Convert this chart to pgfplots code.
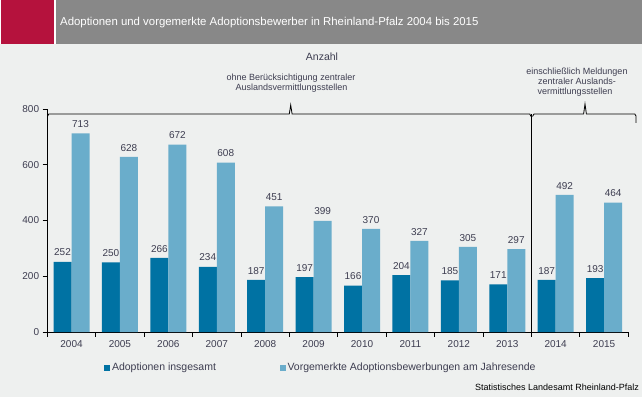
\documentclass[border=0pt]{standalone}
\usepackage{pgfplots}
\pgfplotsset{compat=1.18}
\usepackage{fontspec}
\setmainfont{Liberation Sans}
\definecolor{bg}{HTML}{EEF0EF}
\definecolor{dunkel}{HTML}{0072A3}
\definecolor{hell}{HTML}{6AADCB}
\definecolor{rot}{HTML}{B5123D}
\definecolor{grau}{HTML}{888888}
\definecolor{txt}{HTML}{3D3D50}
\pgfplotsset{/pgfplots/ybar legend/.style={/pgfplots/legend image code/.code={\fill[##1,draw=none] (0pt,-2.8pt) rectangle (5.6pt,2.8pt);}}}
\begin{document}
\begin{tikzpicture}[x=1pt,y=1pt]
\fill[bg] (0,0) rectangle (642,397);
\useasboundingbox (0,0) rectangle (642,397);
\fill[white] (0,352.5) rectangle (642,397);
\fill[rot] (0.7,353.2) rectangle (53.5,397);
\fill[grau] (56,353) rectangle (642,397);
\node[anchor=base west, text=white, inner sep=0pt, font=\fontsize{11.4}{13}\selectfont] at (60,371) {Adoptionen und vorgemerkte Adoptionsbewerber in Rheinland-Pfalz 2004 bis 2015};
\begin{axis}[
  at={(47.3pt,65pt)}, anchor=south west,
  scale only axis, width=581pt, height=223pt,
  xmin=-0.5, xmax=11.5, ymin=0, ymax=800,
  axis x line*=bottom, axis y line*=left,
  axis line style={line width=0.9pt,black},
  ybar=0pt, bar width=18pt,
  xtick={0,...,11},
  xticklabels={2004,2005,2006,2007,2008,2009,2010,2011,2012,2013,2014,2015},
  minor xtick={-0.5,0.5,...,11.5},
  ytick={0,200,400,600,800},
  tick align=outside,
  major tick length=4.7pt, minor tick length=4.7pt,
  tick style={line width=0.9pt,black},
  major x tick style={draw=none},
  /pgf/number format/assume math mode=true,
  ticklabel style={font=\fontsize{10}{12}\selectfont, text=txt},
  nodes near coords,
  nodes near coords style={font=\fontsize{10}{12}\selectfont, text=txt, anchor=south, inner sep=0pt, yshift=5.5pt},
  legend columns=2,
  legend style={at={(0.098,-0.161)}, anchor=west, draw=none, fill=none, inner sep=0pt,
    font=\fontsize{10.5}{12}\selectfont, text=txt,
    /tikz/every even column/.append style={column sep=62pt}},
  clip=false,
]
\addplot[fill=dunkel, draw=none] coordinates {(0,252) (1,250) (2,266) (3,234) (4,187) (5,197) (6,166) (7,204) (8,185) (9,171) (10,187) (11,193)};
\addlegendentry{Adoptionen insgesamt}
\addplot[fill=hell, draw=none] coordinates {(0,713) (1,628) (2,672) (3,608) (4,451) (5,399) (6,370) (7,327) (8,305) (9,297) (10,492) (11,464)};
\addlegendentry{Vorgemerkte Adoptionsbewerbungen am Jahresende}
\end{axis}
\draw[line width=0.8pt] (47.5,280.5) -- (48.7,283) -- (289.3,283) -- (290.7,292) -- (292.1,283) -- (529.8,283) -- (531,280.5);
\draw[line width=0.8pt] (531.5,283) -- (531.5,61);
\draw[line width=0.8pt] (532.5,280.5) -- (534,283) -- (583.6,283) -- (585,293) -- (586.4,283) -- (634.8,283) -- (636,281) -- (636,274);
\node[anchor=base, text=txt, inner sep=0pt, font=\fontsize{10.5}{12}\selectfont] at (322,336) {Anzahl};
\node[anchor=base, text=txt, inner sep=0pt, font=\fontsize{9}{11}\selectfont] at (291,316) {ohne Berücksichtigung zentraler};
\node[anchor=base, text=txt, inner sep=0pt, font=\fontsize{9}{11}\selectfont] at (291.5,306.5) {Auslandsvermittlungsstellen};
\node[anchor=base, text=txt, inner sep=0pt, font=\fontsize{9}{11}\selectfont] at (577,322.7) {einschließlich Meldungen};
\node[anchor=base, text=txt, inner sep=0pt, font=\fontsize{9}{11}\selectfont] at (577,312.2) {zentraler Auslands-};
\node[anchor=base, text=txt, inner sep=0pt, font=\fontsize{9}{11}\selectfont] at (575,302) {vermittlungsstellen};
\node[anchor=base east, text=black, inner sep=0pt, font=\fontsize{9}{11}\selectfont] at (639,7) {Statistisches Landesamt Rheinland-Pfalz};
\end{tikzpicture}
\end{document}
